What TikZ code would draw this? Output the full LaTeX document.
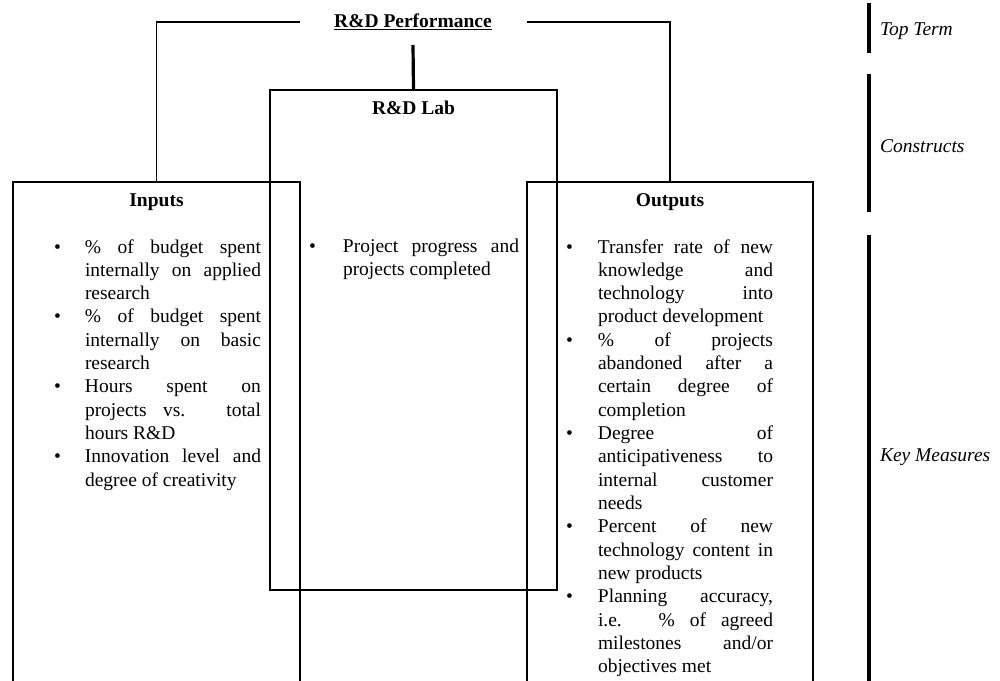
\documentclass[tikz,border=0pt]{standalone}
\usepackage{fontspec}
\setmainfont{Liberation Serif}
\newcommand{\bitem}[1]{\makebox[#1][l]{\textbullet}}
\newcommand{\jl}[1]{\makebox[176pt][s]{#1}}
\begin{document}
\begin{tikzpicture}[x=1pt,y=-1pt,
  every node/.style={font=\fontsize{19.5}{23.33}\selectfont, inner sep=0pt, outer sep=0pt},
  frame/.style={draw, line width=1.8pt, rectangle, inner sep=0pt},
  ttl/.style={font=\fontsize{19.5}{23.33}\selectfont\bfseries, anchor=base},
  link/.style={line width=1.8pt},
  stub/.style={line width=3.2pt},
  bar/.style={line width=3.6pt},
  lbl/.style={font=\fontsize{19.5}{23.33}\selectfont\itshape, anchor=base west},
  lst/.style={anchor=base west, align=left}
]
\useasboundingbox (0,0) rectangle (1000,680);
\begin{scope}
\clip (0,0) rectangle (1000,680);

% title
\node[minimum width=227pt, minimum height=46pt, font=\fontsize{19.5}{23.33}\selectfont\bfseries] (perf) at (413,22) {\underline{R\&D Performance}};

% boxes
\node[frame, minimum width=287pt, minimum height=500pt] (lab) at (413.5,340) {};
\node[frame, minimum width=287pt, minimum height=538pt] (inputs) at (156.5,451) {};
\node[frame, minimum width=286pt, minimum height=538pt] (outputs) at (670,451) {};

% titles
\node[ttl] (labt) at (413.5,114) {R\&D Lab};
\node[ttl] (inpt) at (156.5,206) {Inputs};
\node[ttl] (outt) at (670,206) {Outputs};

% connectors
\draw[link] (perf.west) -| (inputs.north);
\draw[link] (perf.east) -| (outputs.north);
\draw[stub] (perf.south) -- (lab.north);

% lists
\node[lst] (inlist) at (54,253) {\parbox[t]{220pt}{%
\bitem{31pt}\jl{\% of budget spent}\\
\hspace*{31pt}\jl{internally on applied}\\
\hspace*{31pt}research\\
\bitem{31pt}\jl{\% of budget spent}\\
\hspace*{31pt}\jl{internally on basic}\\
\hspace*{31pt}research\\
\bitem{31pt}\jl{Hours spent on}\\
\hspace*{31pt}\jl{projects vs. total}\\
\hspace*{31pt}hours R\&D\\
\bitem{31pt}\jl{Innovation level and}\\
\hspace*{31pt}degree of creativity}};

\node[lst] (lablist) at (309,252.5) {\parbox[t]{220pt}{%
\bitem{34pt}\jl{Project progress and}\\
\hspace*{34pt}projects completed}};

\node[lst] (outlist) at (566,253) {\parbox[t]{220pt}{%
\bitem{32pt}\makebox[175pt][s]{Transfer rate of new}\\
\hspace*{32pt}\makebox[175pt][s]{knowledge and}\\
\hspace*{32pt}\makebox[175pt][s]{technology into}\\
\hspace*{32pt}product development\\
\bitem{32pt}\makebox[175pt][s]{\% of projects}\\
\hspace*{32pt}\makebox[175pt][s]{abandoned after a}\\
\hspace*{32pt}\makebox[175pt][s]{certain degree of}\\
\hspace*{32pt}completion\\
\bitem{32pt}\makebox[175pt][s]{Degree of}\\
\hspace*{32pt}\makebox[175pt][s]{anticipativeness to}\\
\hspace*{32pt}\makebox[175pt][s]{internal customer}\\
\hspace*{32pt}needs\\
\bitem{32pt}\makebox[175pt][s]{Percent of new}\\
\hspace*{32pt}\makebox[175pt][s]{technology content in}\\
\hspace*{32pt}new products\\
\bitem{32pt}\makebox[175pt][s]{Planning accuracy,}\\
\hspace*{32pt}\makebox[175pt][s]{i.e. \% of agreed}\\
\hspace*{32pt}\makebox[175pt][s]{milestones and/or}\\
\hspace*{32pt}objectives met}};

% level bars and labels
\coordinate (b1s) at (869,3);  \coordinate (b1e) at (869,53);
\coordinate (b2s) at (869,74); \coordinate (b2e) at (869,212);
\coordinate (b3s) at (869,235); \coordinate (b3e) at (869,690);
\draw[bar] (b1s) -- (b1e);
\draw[bar] (b2s) -- (b2e);
\draw[bar] (b3s) -- (b3e);
\node[lbl] (topterm) at (880,35) {Top Term};
\node[lbl] (constr) at (880,152) {Constructs};
\node[lbl] (keym) at (880,461) {Key Measures};
\end{scope}
\end{tikzpicture}
\end{document}
